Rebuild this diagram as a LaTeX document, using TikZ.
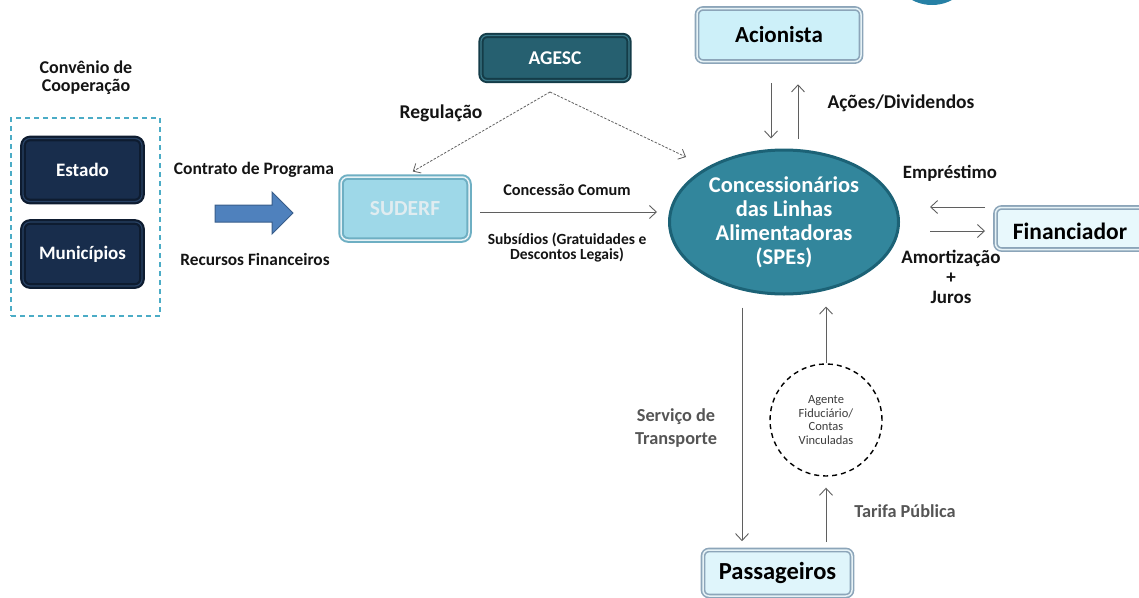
\documentclass[tikz,border=0pt]{standalone}
\usepackage{fontspec}
\setmainfont{Carlito}
\usetikzlibrary{arrows.meta,shapes.geometric,calc}
\definecolor{navyfill}{RGB}{24,45,76}
\definecolor{navyedge}{RGB}{14,28,48}
\definecolor{navyin}{RGB}{40,66,100}
\definecolor{tealfill}{RGB}{38,96,112}
\definecolor{tealedge}{RGB}{20,60,72}
\definecolor{tealin}{RGB}{60,122,138}
\definecolor{sudfill}{RGB}{158,216,232}
\definecolor{sudedge}{RGB}{110,175,195}
\definecolor{sudtext}{RGB}{224,236,240}
\definecolor{lightfill}{RGB}{205,240,249}
\definecolor{lightedge}{RGB}{140,165,185}
\definecolor{paleedge}{RGB}{230,242,246}
\definecolor{spefill}{RGB}{50,134,156}
\definecolor{speedge}{RGB}{28,98,118}
\definecolor{arrowblue}{RGB}{79,129,189}
\definecolor{arrowblueedge}{RGB}{56,93,138}
\definecolor{dashcyan}{RGB}{75,172,198}
\definecolor{txt}{RGB}{20,20,20}
\definecolor{greytxt}{RGB}{85,85,85}
\definecolor{linegrey}{RGB}{95,95,95}
\definecolor{blobteal}{RGB}{38,128,165}
\begin{document}
\begin{tikzpicture}[x=1pt,y=-1pt,
  lbl/.style={font=\bfseries\fontsize{18}{18}\selectfont, text=txt, align=center, inner sep=0},
  smalllbl/.style={font=\bfseries\fontsize{15.5}{15.5}\selectfont, text=txt, align=center, inner sep=0},
  greylbl/.style={font=\bfseries\fontsize{18.3}{23}\selectfont, text=greytxt, align=center, inner sep=0},
  darkbox/.style={rounded corners=7, fill=navyfill, draw=navyedge, line width=2.2pt, inner sep=0,
     double=navyin, double distance=1.2pt, text=white, font=\bfseries\fontsize{19}{19}\selectfont},
  tealbox/.style={rounded corners=6, fill=tealfill, draw=tealedge, line width=2pt, inner sep=0,
     double=tealin, double distance=1.2pt, text=white, font=\bfseries\fontsize{19.5}{19}\selectfont},
  sudbox/.style={rounded corners=7, fill=sudfill, draw=sudedge, line width=2pt, inner sep=0,
     double=paleedge, double distance=1.5pt, text=sudtext, font=\bfseries\fontsize{21.5}{21}\selectfont},
  lightbox/.style={rounded corners=6, fill=lightfill, draw=lightedge, line width=1.6pt, inner sep=0,
     double=paleedge, double distance=1.5pt, text=black, font=\bfseries\fontsize{23}{24}\selectfont},
  arr/.style={draw=linegrey, line width=0.9pt, -{Straight Barb[length=7pt,width=13pt]}},
  dasharr/.style={draw=linegrey, line width=0.8pt, dash pattern=on 2.5pt off 1.5pt, -{Straight Barb[length=6pt,width=11pt]}}
]
\useasboundingbox (0,0) rectangle (1139,597);
\clip (0,0) rectangle (1139,597);

% stray shape at the top edge
\fill[blobteal] (932,-37.5) circle (42.5);

% left group
\node[draw=dashcyan, line width=1.3pt, dash pattern=on 5pt off 4pt, minimum width=149, minimum height=198, inner sep=0] (grp) at (85.5,217) {};
\node[lbl] (conv) at (86,78) {Convênio de\\Cooperação};
\node[darkbox, minimum width=119, minimum height=63] (estado) at (82.5,170) {Estado};
\node[darkbox, minimum width=119, minimum height=64] (mun) at (82.5,254) {Municípios};

\node[lbl, font=\bfseries\fontsize{17.5}{18}\selectfont] (contrato) at (254,170) {Contrato de Programa};
\node[lbl, font=\bfseries\fontsize{17.3}{18}\selectfont] (recursos) at (255,259) {Recursos Financeiros};
\draw[fill=arrowblue, draw=arrowblueedge, line width=1pt]
  (215,205) -- (272,205) -- (272,192) -- (293,213) -- (272,234) -- (272,222) -- (215,222) -- cycle;

% SUDERF and AGESC
\node[sudbox, minimum width=128, minimum height=63] (sud) at (405,208.5) {SUDERF};
\node[tealbox, minimum width=148, minimum height=45] (agesc) at (555,58) {AGESC};
\node[lbl, font=\bfseries\fontsize{19.5}{19}\selectfont] (reg) at (441,113) {Regulação};

\coordinate (apex) at (550,92);
\coordinate (regend) at (686,157);
\draw[dasharr, shorten >=9pt] (apex) -- (sud.north);
\draw[dasharr] (apex) -- (regend);

% central ellipse
\node[ellipse, fill=spefill, draw=speedge, line width=3pt, minimum width=229, minimum height=144, inner sep=0,
  text=white, align=center, font=\bfseries\fontsize{22.5}{24}\selectfont] (spe) at (784,222)
  {Concessionários\\das Linhas\\Alimentadoras\\(SPEs)};

% Acionista
\node[lightbox, minimum width=164, minimum height=53] (aci) at (779,35) {Acionista};
\draw[arr, shorten <=21pt, shorten >=10pt] ([xshift=-8]aci.south) -- ([xshift=-8]aci.south |- spe.north);
\draw[arr, shorten <=10pt, shorten >=22pt] ([xshift=19]aci.south |- spe.north) -- ([xshift=19]aci.south);
\node[lbl, font=\bfseries\fontsize{19.5}{19}\selectfont] (acoes) at (901,103) {Ações/Dividendos};

% SUDERF -> SPE
\draw[arr, shorten <=10pt, shorten >=11pt] (sud.east |- 0,212) -- (spe.west |- 0,212);
\node[smalllbl, font=\bfseries\fontsize{16.3}{16}\selectfont] (conc) at (567,190) {Concessão Comum};
\node[smalllbl] (subs) at (567,247.5) {Subsídios (Gratuidades e\\Descontos Legais)};

% Financiador
\node[lightbox, fill=white!55!lightfill, minimum width=155, minimum height=42] (fin) at (1073,228.5) {};
\node[font=\bfseries\fontsize{23.5}{24}\selectfont, inner sep=0] (fintxt) at (1070,231) {Financiador};
\coordinate (emp1) at (985,207);
\coordinate (emp2) at (930,207);
\coordinate (amo1) at (930,231);
\coordinate (amo2) at (985,231);
\draw[arr] (emp1) -- (emp2);
\draw[arr] (amo1) -- (amo2);
\node[lbl, font=\bfseries\fontsize{18.8}{19}\selectfont] (empr) at (950,173) {Empréstimo};
\node[lbl, font=\bfseries\fontsize{19}{20}\selectfont] (amort) at (951,277) {Amortização\\+\\Juros};

% bottom
\node[lightbox, fill=white!35!lightfill, minimum width=149, minimum height=46, font=\bfseries\fontsize{24.5}{24}\selectfont] (pas) at (777.5,573) {Passageiros};
\node[circle, draw=black, line width=1.4pt, dash pattern=on 5pt off 4pt, minimum size=112, inner sep=0,
  align=center, text=greytxt!70!black, font=\fontsize{12.5}{13.5}\selectfont] (agente) at (826,420)
  {Agente\\Fiduciário/\\Contas\\Vinculadas};

\draw[arr, shorten <=12pt, shorten >=8pt] (spe.south -| 742,0) -- (pas.north -| 742,0);
\draw[arr, shorten <=7pt, shorten >=11pt] (pas.north -| agente.south) -- (agente.south);
\draw[arr, shorten >=11pt] (agente.north) -- (spe.south -| agente.north);

\node[greylbl] (serv) at (676,428.5) {Serviço de\\Transporte};
\node[greylbl] (tarifa) at (905,511) {Tarifa Pública};
\end{tikzpicture}
\end{document}
